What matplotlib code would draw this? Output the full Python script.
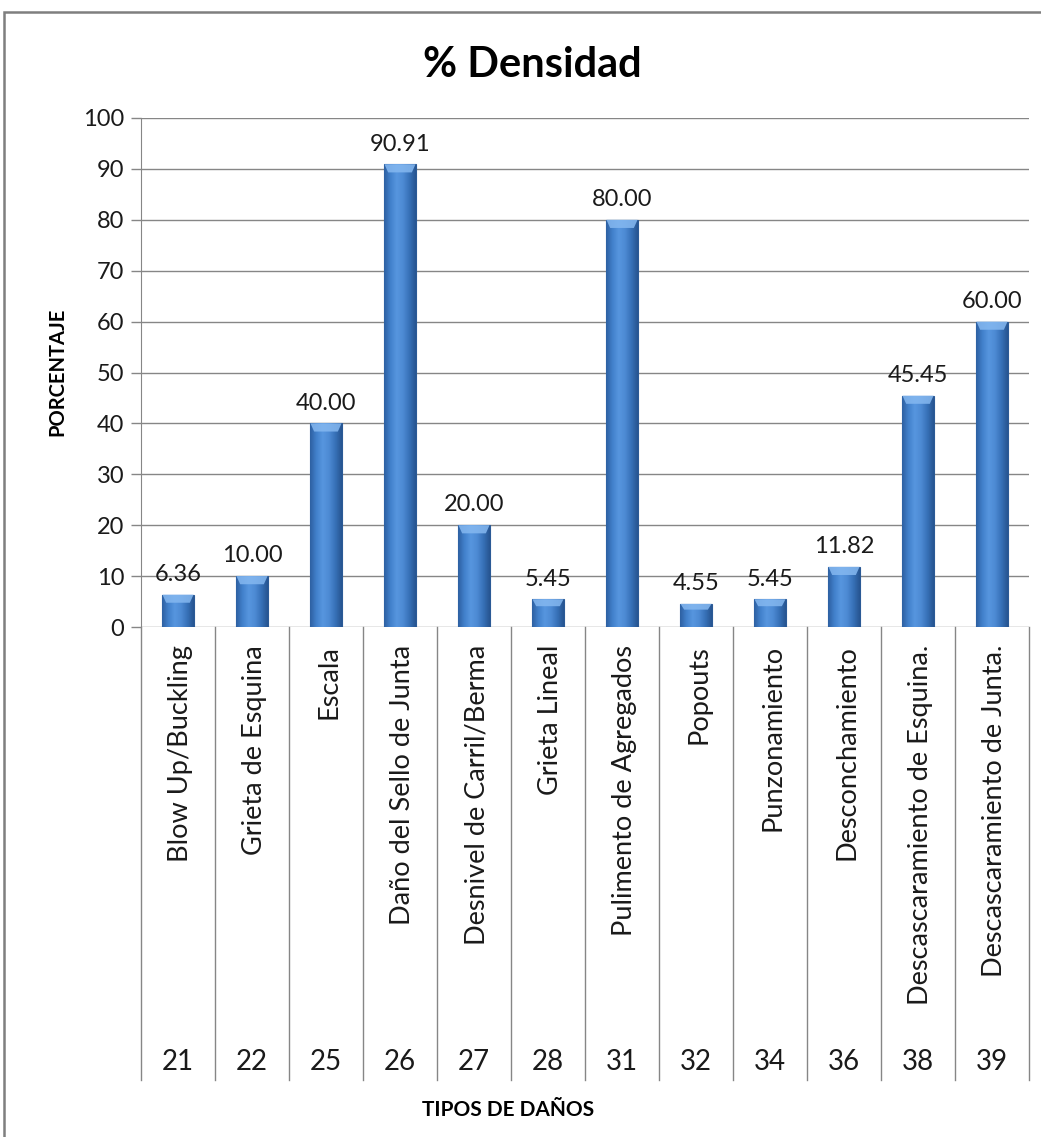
import matplotlib
matplotlib.use("Agg")
import matplotlib.pyplot as plt
import numpy as np
from matplotlib.colors import LinearSegmentedColormap
from matplotlib.patches import Rectangle
import matplotlib.transforms as mtransforms

codes = ["21", "22", "25", "26", "27", "28", "31", "32", "34", "36", "38", "39"]
names = ["Blow Up/Buckling", "Grieta de Esquina", "Escala", "Daño del Sello de Junta",
         "Desnivel de Carril/Berma", "Grieta Lineal", "Pulimento de Agregados", "Popouts",
         "Punzonamiento", "Desconchamiento", "Descascaramiento de Esquina.",
         "Descascaramiento de Junta."]
values = [6.36, 10.00, 40.00, 90.91, 20.00, 5.45, 80.00, 4.55, 5.45, 11.82, 45.45, 60.00]
yticks = [0, 10, 20, 30, 40, 50, 60, 70, 80, 90, 100]

plt.rcParams['font.family'] = ['Lato', 'DejaVu Sans']

W, H = 1041, 1137
fig = plt.figure(figsize=(W / 100, H / 100), dpi=100)
ax = fig.add_axes([141 / W, 1 - 627 / H, (1029 - 141) / W, (627 - 118) / H])

grid_c = "#868686"
txt_c = "#1a1a1a"
n = len(values)
x = np.arange(n)
bw = 0.42

ax.set_xlim(-0.5, n - 0.5)
ax.set_ylim(0, 100)
ax.set_yticks(yticks)
ax.set_yticklabels([str(t) for t in yticks], fontsize=17, color=txt_c)
ax.set_xticks([])
ax.tick_params(axis='y', length=7, color=grid_c, width=1, pad=5)
for s in ["top", "right", "bottom"]:
    ax.spines[s].set_visible(False)
ax.spines["left"].set_color(grid_c)
ax.yaxis.grid(True, color=grid_c, linewidth=1)
ax.set_axisbelow(True)

cmap = LinearSegmentedColormap.from_list(
    "bar", ["#2d60a2", "#4281cc", "#5796df", "#4d8ad3", "#3771b8", "#275591"])
grad = np.linspace(0, 1, 64).reshape(1, -1)

for xi, v in zip(x, values):
    rect = Rectangle((xi - bw / 2, 0), bw, v, facecolor="#3a75bf",
                     edgecolor="#2b5a96", linewidth=0.8, zorder=3)
    ax.add_patch(rect)
    im = ax.imshow(grad, cmap=cmap, extent=[xi - bw / 2, xi + bw / 2, 0, v],
                   aspect="auto", zorder=3.5, interpolation="bicubic")
    im.set_clip_path(rect)
    bev = min(1.6, v * 0.25)
    top = plt.Polygon([[xi - bw / 2, v], [xi + bw / 2, v],
                       [xi + bw / 2 - 0.05, v - bev], [xi - bw / 2 + 0.05, v - bev]],
                      closed=True, facecolor="#85b8f0", edgecolor="none", alpha=0.85,
                      zorder=4)
    ax.add_patch(top)
    ax.annotate(f"{v:.2f}", (xi, v), xytext=(0, 7), textcoords="offset points",
                ha="center", va="bottom", fontsize=17, color=txt_c)

ax.set_xlim(-0.5, n - 0.5)
ax.set_ylim(0, 100)

trans = mtransforms.blended_transform_factory(ax.transData, ax.transAxes)
sep_bottom = -(1080 - 627) / (627 - 118)
for b in np.arange(-0.5, n, 1.0):
    ax.plot([b, b], [0, sep_bottom], transform=trans, color=grid_c, lw=1,
            clip_on=False)
for xi, nm, cd in zip(x, names, codes):
    ax.text(xi + 0.04, -(645 - 627) / 509, nm, transform=trans, rotation=90,
            ha="center", va="top", fontsize=19.5, color=txt_c)
    ax.text(xi, -(1062 - 627) / 509, cd, transform=trans, ha="center", va="center",
            fontsize=20, color=txt_c)

fig.text(532 / W, 1 - 65 / H, "% Densidad", ha="center", va="center",
         fontsize=30, fontweight="bold", color="#000000")
fig.text(508 / W, 1 - 1110 / H, "TIPOS DE DAÑOS", ha="center", va="center",
         fontsize=15, fontweight="bold", color="#000000")
fig.text(57 / W, 1 - 372 / H, "PORCENTAJE", ha="center", va="center", rotation=90,
         fontsize=14.5, fontweight="bold", color="#000000")

fig.patches.append(Rectangle((4 / W, -0.1), 1.2, 1.1 - 12 / H,
                             transform=fig.transFigure, fill=False,
                             edgecolor="#7f7f7f", linewidth=1.8))

fig.savefig("out.png", dpi=100, facecolor="white")
